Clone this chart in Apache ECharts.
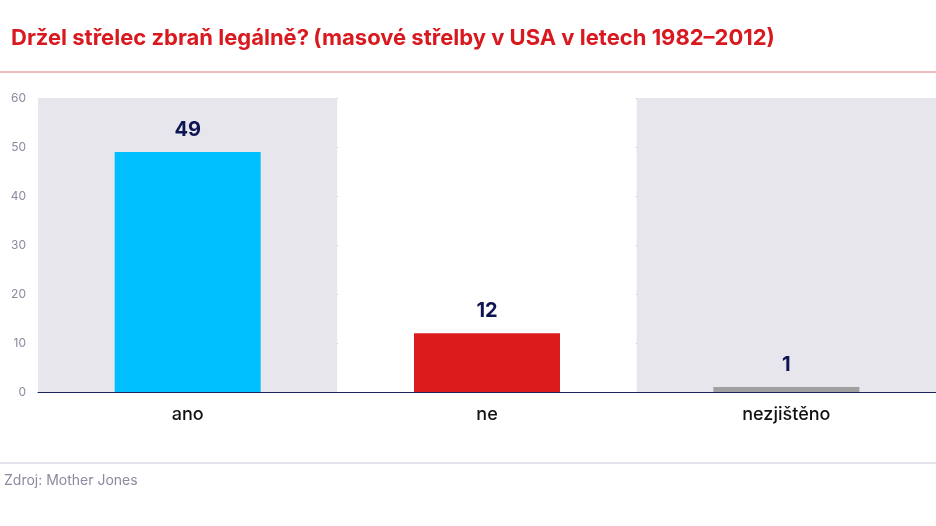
<!DOCTYPE html>
<html><head><meta charset="utf-8">
<script src="https://cdn.jsdelivr.net/npm/echarts@6/dist/echarts.min.js"></script>
<style>body{margin:0}#c{width:936px;height:526px}</style>
</head><body><div id="c"></div>
<script>
const categories = ['ano', 'ne', 'nezjištěno'];
const values = [49, 12, 1];
const barColors = ['#00bfff', '#dc1c1c', '#a0a0a0'];

const chart = echarts.init(document.getElementById('c'));
chart.setOption({
  animation: false,
  textStyle: { fontFamily: 'Inter' },
  title: {
    left: 6, top: 22,
    text: '{b|Držel střelec zbraň legálně?} {n|(masové střelby v USA v letech 1982–2012)}',
    textStyle: { rich: {
      b: { fontSize: 22, fontWeight: 'bold', color: '#d8191f', fontFamily: 'Inter' },
      n: { fontSize: 22, color: '#d8191f', fontFamily: 'Inter' }
    } }
  },
  graphic: [
    { type: 'line', shape: { x1: 0, y1: 72, x2: 936, y2: 72 }, style: { stroke: '#e07a7a', lineWidth: 1 } },
    { type: 'line', shape: { x1: 0, y1: 463, x2: 936, y2: 463 }, style: { stroke: '#c8c8d8', lineWidth: 1 } },
    { type: 'text', left: 4, top: 474, style: { text: 'Zdroj: Mother Jones', fill: '#8a8aa0', fontSize: 14, fontFamily: 'Inter' } }
  ],
  grid: { left: 38, right: 0, top: 98, bottom: 134 },
  xAxis: {
    type: 'category', data: categories,
    axisLine: { lineStyle: { color: '#1a2260' } }, axisTick: { show: false },
    axisLabel: { color: '#111', fontSize: 18, fontWeight: 500, margin: 14 },
    splitArea: { show: true, areaStyle: { color: ['#e6e6ec', '#ffffff'] } }
  },
  yAxis: {
    type: 'value', min: 0, max: 60, interval: 10,
    axisLabel: { color: '#8a8aa0', fontSize: 12, margin: 12 },
    splitLine: { lineStyle: { color: '#1a2260', width: 1 } }
  },
  series: [{
    type: 'bar', barWidth: 146,
    data: values.map((v, i) => ({ value: v, itemStyle: { color: barColors[i] } })),
    label: { show: true, position: 'top', distance: 12, color: '#0d1552', fontSize: 20, fontWeight: 'bold' }
  }]
});
</script></body></html>
